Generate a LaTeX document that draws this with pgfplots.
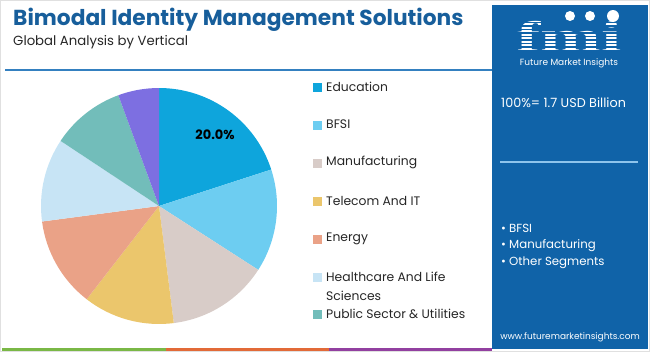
\documentclass[border=0pt]{standalone}
\usepackage{pgfplots}
\pgfplotsset{compat=1.18}
\usepackage{pgfplotstable}
\usepackage{fontspec}
\setmainfont{Poppins}
\newfontfamily\logofont{Liberation Serif}
\definecolor{titleblue}{HTML}{175E9B}
\definecolor{panel}{HTML}{1063A8}
\definecolor{cA}{HTML}{0EA5DC}
\definecolor{cB}{HTML}{6DCDF1}
\definecolor{cC}{HTML}{D8CCC8}
\definecolor{cD}{HTML}{EBC66C}
\definecolor{cE}{HTML}{EAA287}
\definecolor{cF}{HTML}{C7E4F5}
\definecolor{cG}{HTML}{72BDBA}
\definecolor{cH}{HTML}{7D6FE1}
\pgfplotstableread{
share col
20.0 cA
14.1 cB
13.9 cC
12.5 cD
12.4 cE
11.4 cF
10.1 cG
5.6 cH
}\piedata
\begin{document}
\begin{tikzpicture}
\path[use as bounding box] (0,0) rectangle (650bp,-352bp);
\begin{scope}[x=1bp,y=-1bp]
% frame
\draw[black!12, line width=0.8bp] (0.5,0.5) rectangle (649.5,351.5);
% title
\node[anchor=base west, inner sep=0, text=titleblue, font=\fontsize{21.8}{24}\selectfont\bfseries] at (13,25.5) {Bimodal Identity Management Solutions};
\node[anchor=base west, inner sep=0, text=black!85, font=\fontsize{13.3}{16}\selectfont] at (13,45) {Global Analysis by Vertical};
\draw[color={rgb,255:red,52;green,128;blue,192}, line width=1.6bp] (5,70) -- (492,70);
% bottom strip
\fill[color={rgb,255:red,122;green,184;blue,70}] (2,347.5) rectangle (166,350.5);
\fill[color={rgb,255:red,226;green,106;blue,56}] (166,347.5) rectangle (329,350.5);
\fill[color={rgb,255:red,146;green,64;blue,160}] (329,347.5) rectangle (492,350.5);
% right panel
\fill[panel] (492,5) rectangle (648,349);
% logo
\node[anchor=base, inner sep=0, text=white, xscale=1.7, font=\logofont\bfseries\fontsize{43}{43}\selectfont] at (569,51) {fmi};
\foreach \yy in {19,22.5,...,52} {\draw[panel, line width=1.1bp] (505,\yy) -- (640,\yy);}
\fill[white] (570,16) circle (5);
\fill[white] (590,16) circle (5);
\fill[white] (613,16) circle (6);
\node[inner sep=0, text=white, font=\fontsize{9}{10}\selectfont] at (569,63.5) {Future Market Insights};
\node[anchor=west, inner sep=0, text=white, font=\fontsize{12.8}{14}\selectfont] at (501,103) {100\%= 1.7 USD Billion};
\draw[color={rgb,255:red,142;green,196;blue,236}, line width=1.5bp] (500,162) -- (638,162);
\node[anchor=west, inner sep=0, text=white, font=\fontsize{11.8}{13}\selectfont] at (501,228) {\textbullet\ BFSI};
\node[anchor=west, inner sep=0, text=white, font=\fontsize{11.8}{13}\selectfont] at (501,245.5) {\textbullet\ Manufacturing};
\node[anchor=west, inner sep=0, text=white, font=\fontsize{11.8}{13}\selectfont] at (501,263) {\textbullet\ Other Segments};
\node[inner sep=0, text=white, font=\fontsize{9}{10}\selectfont] at (570,337) {www.futuremarketinsights.com};
% legend
\foreach \yy/\cc/\tt in {87/cA/Education,125/cB/BFSI,163/cC/Manufacturing,201/cD/Telecom And IT,239/cE/Energy,277/cF/Healthcare And Life,314/cG/Public Sector \& Utilities}{
  \fill[\cc] (313,\yy-4.5) rectangle (322,\yy+4.5);
  \node[anchor=west, inner sep=0, text=black!85, font=\fontsize{12.4}{14}\selectfont] at (326,\yy-0.5) {\tt};
}
\node[anchor=west, inner sep=0, text=black!85, font=\fontsize{12.4}{14}\selectfont] at (326,295.5) {Sciences};
\end{scope}
\begin{axis}[at={(159bp,-206bp)}, anchor=center, scale only axis, width=236bp, height=236bp,
  xmin=-1, xmax=1, ymin=-1, ymax=1, hide axis, clip=false]
\def\angA{90}
\pgfplotsforeachungrouped \i in {0,...,7}{%
  \pgfplotstablegetelem{\i}{share}\of\piedata \let\shareval\pgfplotsretval
  \pgfplotstablegetelem{\i}{col}\of\piedata \let\slc\pgfplotsretval
  \pgfmathsetmacro\angB{\angA-3.6*\shareval}%
  \edef\cmd{\noexpand\fill[\slc] (axis cs:0,0) -- (axis cs:{cos(\angA)},{sin(\angA)}) arc[start angle=\angA, end angle=\angB, radius=118bp] -- cycle;}%
  \cmd
  \global\let\angA\angB
}
\node[font=\bfseries\fontsize{13}{15}\selectfont] at (axis cs:0.475,0.6) {20.0\%};
\end{axis}
\end{tikzpicture}
\end{document}
